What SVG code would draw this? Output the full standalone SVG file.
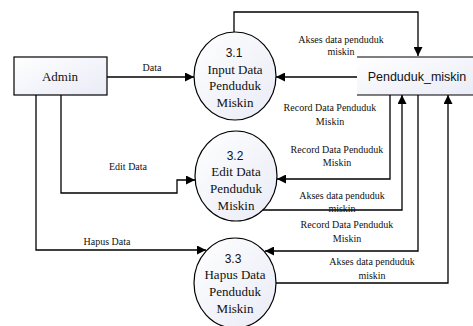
<svg xmlns="http://www.w3.org/2000/svg" width="473" height="326" viewBox="0 0 473 326">
<defs>
<linearGradient id="g" x1="0" y1="0" x2="1" y2="1">
<stop offset="0" stop-color="#ffffff"/>
<stop offset="1" stop-color="#e9ebf6"/>
</linearGradient>
<marker id="ah" markerWidth="9" markerHeight="9" refX="9" refY="4.5" orient="auto" markerUnits="userSpaceOnUse">
<path d="M0,0 L9,4.5 L0,9 Z" fill="#000"/>
</marker>
<style>
.shape{fill:url(#g);stroke:#000;stroke-width:1.2}
.store{fill:url(#g);stroke:none}
.edge{fill:none;stroke:#000;stroke-width:1.2}
.conn{fill:none;stroke:#000;stroke-width:1.3;marker-end:url(#ah)}
.lbl{font-family:"Liberation Serif",serif;font-size:10px;fill:#111;text-anchor:middle}
.nt{font-family:"Liberation Serif",serif;font-size:13px;fill:#111;text-anchor:middle}
.num{font-family:"Liberation Sans",sans-serif;font-size:12px;fill:#111;text-anchor:middle}
.ent{font-family:"Liberation Sans",sans-serif;font-size:12.5px;fill:#111;text-anchor:middle}
</style>
</defs>
<g id="connectors">
<path class="conn" d="M107,77 H194"/>
<path class="conn" d="M234,32 V12 H418 V56"/>
<path class="conn" d="M357,77 H276"/>
<path class="conn" d="M390,95 V179 H277"/>
<path class="conn" d="M263,210 H402 V95"/>
<path class="conn" d="M418,95 V251 H265"/>
<path class="conn" d="M275,283 H448 V95"/>
<path class="conn" d="M61,95 V193 H177 V180 H195"/>
<path class="conn" d="M36,95 V250 H206"/>
<text class="lbl" x="152" y="71">Data</text>
<text class="lbl" x="341" y="43">Akses data penduduk</text>
<text class="lbl" x="341" y="55">miskin</text>
<text class="lbl" x="330" y="111">Record Data Penduduk</text>
<text class="lbl" x="330" y="125">Miskin</text>
<text class="lbl" x="337" y="153">Record Data Penduduk</text>
<text class="lbl" x="337" y="166">Miskin</text>
<text class="lbl" x="128" y="170">Edit Data</text>
<text class="lbl" x="342" y="199">Akses data penduduk</text>
<text class="lbl" x="342" y="212">miskin</text>
<text class="lbl" x="107" y="245">Hapus Data</text>
<text class="lbl" x="347" y="228">Record Data Penduduk</text>
<text class="lbl" x="347" y="242">Miskin</text>
<text class="lbl" x="372" y="265">Akses data penduduk</text>
<text class="lbl" x="372" y="279">miskin</text>
</g>
<g id="admin">
<rect class="shape" x="14" y="57" width="93" height="38"/>
<text class="nt" x="60" y="81">Admin</text>
</g>
<g id="penduduk_miskin">
<rect class="store" x="357" y="57" width="126" height="38"/>
<path class="edge" d="M357,57 H483 M357,95 H483"/>
<text class="ent" x="417" y="81">Penduduk_miskin</text>
</g>
<g id="p31">
<ellipse class="shape" cx="235" cy="76" rx="41" ry="44"/>
<text class="num" x="234" y="57">3.1</text>
<text class="nt" x="235" y="73.5">Input Data</text>
<text class="nt" x="235" y="90">Penduduk</text>
<text class="nt" x="235" y="106.5">Miskin</text>
</g>
<g id="p32">
<ellipse class="shape" cx="236" cy="176" rx="41" ry="45"/>
<text class="num" x="235" y="159.5">3.2</text>
<text class="nt" x="236" y="176">Edit Data</text>
<text class="nt" x="236" y="193">Penduduk</text>
<text class="nt" x="236" y="210">Miskin</text>
</g>
<g id="p33">
<ellipse class="shape" cx="235" cy="283" rx="41" ry="45"/>
<text class="num" x="233" y="262.5">3.3</text>
<text class="nt" x="235" y="279">Hapus Data</text>
<text class="nt" x="235" y="296">Penduduk</text>
<text class="nt" x="235" y="312.5">Miskin</text>
</g>
</svg>
